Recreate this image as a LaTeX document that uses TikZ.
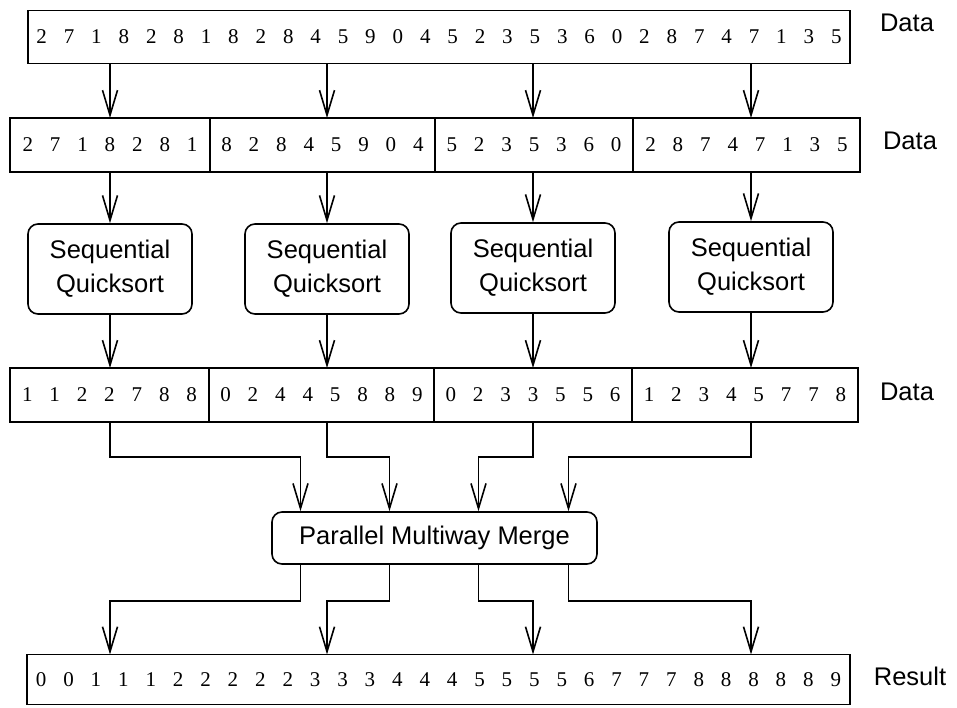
\documentclass[tikz,border=0pt]{standalone}
\usepackage{fontspec}
\setmainfont{Liberation Serif}
\setsansfont{Liberation Sans}
\usepackage{tikz}
\usetikzlibrary{arrows.meta, positioning}
\newcommand{\numfont}{\fontsize{21}{24}\selectfont\spaceskip=16.9pt\relax}
\newcommand{\lblfont}{\sffamily\fontsize{25.5}{34}\selectfont}
\tikzstyle{cell}    = [rectangle, draw=black, line width=1.6pt, minimum height=54pt, inner sep=0pt, outer sep=0pt, font=\numfont]
\tikzstyle{process} = [rectangle, rounded corners=10pt, draw=black, line width=1.6pt, align=center, font=\lblfont]
\tikzstyle{tag}     = [font=\lblfont]
\tikzstyle{arrow}   = [line width=1.6pt, -{Straight Barb[length=25pt, width=15pt]}]

\begin{document}
\begin{tikzpicture}[x=1pt, y=-1pt]
        \useasboundingbox (0,0) rectangle (957,707);
        % input data
        \node (top) [cell, minimum width=822pt, minimum height=53pt] at (439,37) {2 7 1 8 2 8 1 8 2 8 4 5 9 0 4 5 2 3 5 3 6 0 2 8 7 4 7 1 3 5};
        \node (t1)  [tag] at (907,23) {Data};

        % split into four parts
        \node (d1) [cell, minimum width=200pt] at (110,145) {2 7 1 8 2 8 1};
        \node (d2) [cell, minimum width=225pt, right=0pt of d1] {8 2 8 4 5 9 0 4};
        \node (d3) [cell, minimum width=198pt, right=0pt of d2] {5 2 3 5 3 6 0};
        \node (d4) [cell, minimum width=227pt, right=0pt of d3] {2 8 7 4 7 1 3 5};
        \node (t2) [tag] at (910,141) {Data};

        \node (q1) [process, minimum width=164pt, minimum height=90pt] at (110,269) {Sequential\\Quicksort};
        \node (q2) [process, minimum width=164pt, minimum height=90pt] at (327,269) {Sequential\\Quicksort};
        \node (q3) [process, minimum width=164pt, minimum height=90pt] at (533,268) {Sequential\\Quicksort};
        \node (q4) [process, minimum width=164pt, minimum height=90pt] at (751,267) {Sequential\\Quicksort};

        % sorted parts
        \node (r1) [cell, minimum width=199pt] at (109.5,395) {1 1 2 2 7 8 8};
        \node (r2) [cell, minimum width=225pt, right=0pt of r1] {0 2 4 4 5 8 8 9};
        \node (r3) [cell, minimum width=198pt, right=0pt of r2] {0 2 3 3 5 5 6};
        \node (r4) [cell, minimum width=226pt, right=0pt of r3] {1 2 3 4 5 7 7 8};
        \node (t3) [tag] at (907,392) {Data};

        \node (merge) [process, minimum width=325pt, minimum height=52pt] at (434.5,538) {Parallel Multiway Merge};

        \node (res) [cell, minimum width=823pt, minimum height=50pt] at (438.5,679.5) {0 0 1 1 1 2 2 2 2 2 3 3 3 4 4 4 5 5 5 5 6 7 7 7 8 8 8 8 8 9};
        \node (t4)  [tag] at (910,676) {Result};

        \foreach \i/\s in {1/-134, 2/-45, 3/44, 4/134} {
            \draw [arrow] (top.south -| q\i) -- (d\i.north -| q\i);
            \draw [arrow] (d\i.south -| q\i) -- (q\i);
            \draw [arrow] (q\i) -- (r\i.north -| q\i);
            \draw [arrow] (r\i.south -| q\i) -- ++(0,35) -| ([xshift=\s pt]merge.north);
            \draw [arrow] ([xshift=\s pt]merge.south) -- ++(0,36) -| (res.north -| q\i);
        }
    \end{tikzpicture}
\end{document}
